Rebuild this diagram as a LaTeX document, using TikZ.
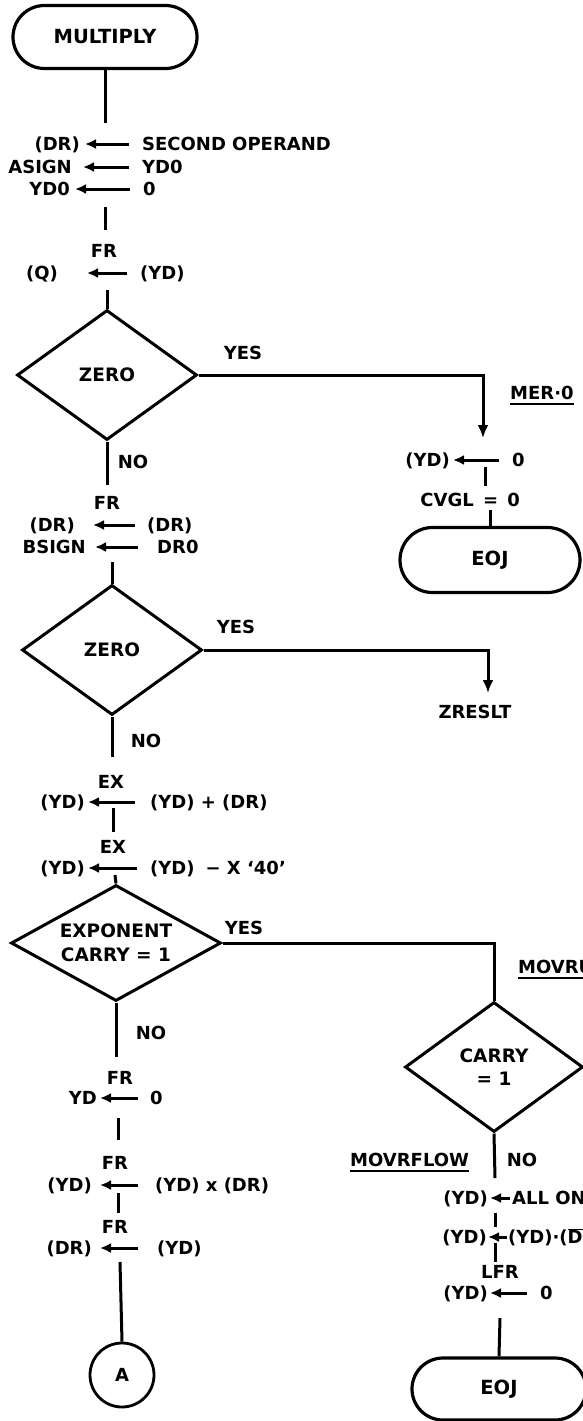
\documentclass[tikz,border=0pt]{standalone}
\usepackage{fontspec}
\setmainfont{DejaVu Sans}
\usepackage{tikz}
\usetikzlibrary{arrows.meta,positioning,calc,shapes.geometric,shapes.misc}

\begin{document}
\begin{tikzpicture}[x=1pt, y=-1pt,
      txt/.style={inner sep=0pt, text height=13pt, text depth=0pt,
                  font=\fontsize{18}{20}\selectfont\bfseries},
      term/.style={draw, rounded rectangle, line width=3.2pt, inner sep=0pt,
                   font=\fontsize{19.5}{21}\selectfont\bfseries},
      dec/.style={draw, diamond, line width=3pt, inner sep=0pt, align=center,
                  font=\fontsize{18.5}{23.5}\selectfont\bfseries},
      conn/.style={draw, circle, line width=2.8pt, minimum size=64pt, inner sep=0pt,
                   font=\fontsize{18}{20}\selectfont\bfseries},
      flow/.style={line width=3pt},
      uline/.style={line width=2.2pt},
      asg/.style={line width=3pt, -{Latex[length=11pt,width=10pt]},
                  shorten <=13pt, shorten >=5pt},
      yes/.style={flow, -{Latex[length=13pt,width=11pt]}}]
    \useasboundingbox (0,0) rectangle (583,1421);
    \clip (0,0) rectangle (583,1421);

    % entry and first assignments
    \node[term, minimum width=184pt, minimum height=63pt] (mult) at (105,37) {MULTIPLY};
    \coordinate (s1) at (105,123);
    \draw[flow] (mult.south) -- (s1);
    \node[txt, anchor=east] (dr1) at (80,144) {(DR)};
    \node[txt, anchor=west] (sop) at (142,144) {SECOND OPERAND};
    \draw[asg] (sop) -- (dr1);
    \node[txt, anchor=east] (asign) at (72,167) {ASIGN};
    \node[txt, anchor=west] (yd0a) at (142,167) {YD0};
    \draw[asg, shorten >=11pt] (yd0a) -- (asign);
    \node[txt, anchor=east] (yd0b) at (70,189) {YD0};
    \node[txt, anchor=west] (zero1) at (143,189) {0};
    \draw[asg] (zero1) -- (yd0b);
    \coordinate (s2a) at (105,207);
    \coordinate (s2b) at (105,230);
    \draw[flow] (s2a) -- (s2b);
    \node[txt] (fr1) at (104,251) {FR};
    \node[txt, anchor=east] (q) at (58,273) {(Q)};
    \node[txt, anchor=west] (yd1) at (140,273) {(YD)};
    \draw[asg, shorten >=29pt] (yd1) -- (q);
    \coordinate (s3) at (107,290);

    % first zero test
    \node[dec, minimum width=180pt, minimum height=130pt, aspect=1.38] (z1) at (107,375) {ZERO};
    \draw[flow] (s3) -- (z1.north);
    \node[txt] (yes1) at (243,353) {YES};
    \coordinate (t1) at (483,438);
    \draw[yes] (z1.east) -| (t1);
    \node[txt, anchor=west] (mer) at (510,393) {MER·0};
    \draw[uline] ([yshift=-4pt]mer.south west) -- ([yshift=-4pt]mer.south east);
    \node[txt, anchor=east] (yd2) at (450,460) {(YD)};
    \node[txt, anchor=west] (zero2) at (512,460) {0};
    \draw[asg, shorten >=3pt] (zero2) -- (yd2);
    \coordinate (s4a) at (485,467);
    \coordinate (s4b) at (485,486);
    \draw[flow] (s4a) -- (s4b);
    \node[txt, anchor=east] (cvgl) at (474,500) {CVGL};
    \node[txt, anchor=west] (eq) at (483,500) {=\hspace{9pt}0};
    \coordinate (s5) at (490,510);
    \node[term, minimum width=180pt, minimum height=65pt] (eoj1) at (490,560) {EOJ};
    \draw[flow] (s5) -- (eoj1.north);

    \node[txt] (no1) at (133,462) {NO};
    \coordinate (s6) at (107,485);
    \draw[flow] (z1.south) -- (s6);
    \node[txt] (fr2) at (107,503) {FR};
    \node[txt, anchor=east] (dr2) at (75,525) {(DR)};
    \node[txt, anchor=west] (dr3) at (147,525) {(DR)};
    \draw[asg, shorten <=12pt, shorten >=18pt] (dr3) -- (dr2);
    \node[txt, anchor=east] (bsign) at (86,547) {BSIGN};
    \node[txt, anchor=west] (dr0) at (157,547) {DR0};
    \draw[asg, shorten <=19pt, shorten >=9pt] (dr0) -- (bsign);
    \coordinate (s7) at (112,562);

    % second zero test
    \node[dec, minimum width=180pt, minimum height=130pt, aspect=1.38] (z2) at (112,650) {ZERO};
    \draw[flow] (s7) -- (z2.north);
    \node[txt] (yes2) at (236,627) {YES};
    \coordinate (t2) at (488,693);
    \draw[yes] (z2.east) -| (t2);
    \node[txt] (zres) at (475,712) {ZRESLT};
    \node[txt] (no2) at (146,741) {NO};
    \coordinate (s8) at (112,757);
    \draw[flow] (z2.south) -- (s8);

    % exponents
    \node[txt] (ex1) at (111,782) {EX};
    \node[txt, anchor=east] (yd3) at (85,802) {(YD)};
    \node[txt, anchor=west] (ydpdr) at (150,802) {(YD) + (DR)};
    \draw[asg, shorten <=15pt, shorten >=3pt] (ydpdr) -- (yd3);
    \coordinate (s9a) at (113,808);
    \coordinate (s9b) at (113,832);
    \draw[flow] (s9a) -- (s9b);
    \node[txt] (ex2) at (113,847) {EX};
    \node[txt, anchor=east] (yd4) at (85,868) {(YD)};
    \node[txt, anchor=west] (ydmx) at (150,868) {(YD)\hspace{11pt}−\ X ‘40’};
    \draw[asg, shorten >=3pt] (ydmx) -- (yd4);
    \coordinate (s10) at (115,875);

    % exponent carry
    \node[dec, minimum width=210pt, minimum height=116pt, aspect=1.8] (ec) at (116,943) {EXPONENT\\CARRY = 1};
    \draw[flow] (s10) -- (ec.north);
    \node[txt] (yes3) at (244,928) {YES};
    \node[dec, minimum width=178pt, minimum height=130pt, aspect=1.37] (c1) at (494,1067) {CARRY\\= 1};
    \draw[flow] (ec.east) -| (c1.north);
    \node[txt, anchor=west] (movru) at (518,967) {MOVRU};
    \draw[uline] ([yshift=-4pt]movru.south west) -- ([yshift=-4pt]movru.south east);

    % fraction multiply
    \node[txt] (no3) at (151,1033) {NO};
    \coordinate (s11) at (116,1057);
    \draw[flow] (ec.south) -- (s11);
    \node[txt] (fr3) at (120,1078) {FR};
    \node[txt, anchor=east] (yd5) at (97,1098) {YD};
    \node[txt, anchor=west] (zero3) at (150,1098) {0};
    \draw[asg, shorten <=12pt, shorten >=3pt] (zero3) -- (yd5);
    \coordinate (s12a) at (118,1118);
    \coordinate (s12b) at (118,1140);
    \draw[flow] (s12a) -- (s12b);
    \node[txt] (fr4) at (115,1163) {FR};
    \node[txt, anchor=east] (yd6) at (92,1185) {(YD)};
    \node[txt, anchor=west] (ydxdr) at (155,1185) {(YD) x (DR)};
    \draw[asg, shorten <=17pt, shorten >=8pt] (ydxdr) -- (yd6);
    \coordinate (s13a) at (118,1193);
    \coordinate (s13b) at (118,1213);
    \draw[flow] (s13a) -- (s13b);
    \node[txt] (fr5) at (115,1227) {FR};
    \node[txt, anchor=east] (dr4) at (92,1248) {(DR)};
    \node[txt, anchor=west] (yd7) at (157,1248) {(YD)};
    \draw[asg, shorten <=19pt, shorten >=8pt] (yd7) -- (dr4);
    \coordinate (s14) at (120,1262);
    \node[conn] (a) at (122,1375) {A};
    \draw[flow] (s14) -- (a.north);

    % overflow
    \node[txt] (no4) at (522,1160) {NO};
    \node[txt, anchor=west] (movr) at (350,1160) {MOVRFLOW};
    \draw[uline] ([yshift=-4pt]movr.south west) -- ([yshift=-4pt]movr.south east);
    \coordinate (s15) at (495,1178);
    \draw[flow] (c1.south) -- (s15);
    \node[txt, anchor=east] (yd8) at (488,1198) {(YD)};
    \node[txt, anchor=west] (ones) at (512,1198) {ALL ONES};
    \draw[asg, shorten <=2pt, shorten >=2pt] (ones) -- (yd8);
    \coordinate (s16a) at (495,1213);
    \coordinate (s16b) at (495,1227);
    \draw[flow] (s16a) -- (s16b);
    \node[txt, anchor=east] (yd9) at (487,1237) {(YD)};
    \node[txt, anchor=west] (ydand) at (508,1237) {(YD)·($\overline{\mbox{DR}}$)};
    \draw[asg, shorten <=1pt, shorten >=1pt] (ydand) -- (yd9);
    \coordinate (s17a) at (495,1243);
    \coordinate (s17b) at (495,1262);
    \draw[flow] (s17a) -- (s17b);
    \node[txt] (lfr) at (500,1272) {LFR};
    \node[txt, anchor=east] (yd10) at (488,1293) {(YD)};
    \node[txt, anchor=west] (zero4) at (540,1293) {0};
    \draw[asg, shorten >=2pt] (zero4) -- (yd10);
    \coordinate (s18) at (500,1318);
    \node[term, minimum width=174pt, minimum height=62pt] (eoj2) at (499,1389) {EOJ};
    \draw[flow] (s18) -- (eoj2.north);
  \end{tikzpicture}
\end{document}
